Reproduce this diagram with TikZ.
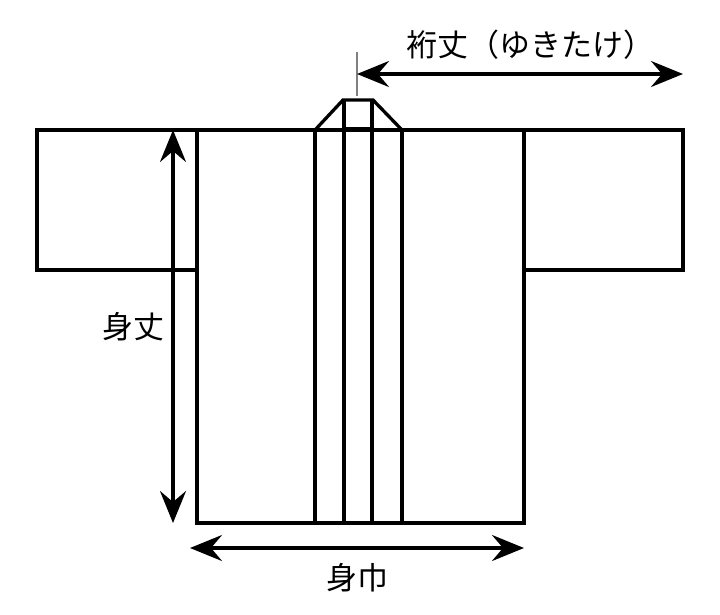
\documentclass[tikz,border=0pt]{standalone}
\usepackage{fontspec}
\newfontfamily\jpfont{Noto Sans CJK JP}
\usetikzlibrary{arrows.meta}

\begin{document}
\begin{tikzpicture}[x=1pt,y=-1pt,line width=3.3pt]
\tikzstyle{dimline}=[{Stealth[length=32pt,width=26pt,inset=11pt]}-{Stealth[length=32pt,width=26pt,inset=11pt]}]
\tikzstyle{dimlabel}=[font=\jpfont\fontsize{31}{31}\selectfont,inner sep=0pt]
\useasboundingbox (0,0) rectangle (720,614);

%% Sleeves and body
\draw (197,130) -- (37,130) -- (37,270) -- (197,270);
\draw (524,130) -- (683,130) -- (683,270) -- (524,270);
\draw (197,130) rectangle (524,523);

%% Collar
\draw (197,130) -- (315,130) -- (343,100) -- (373,100) -- (402,130) -- (524,130);
\draw (315,130) -- (315,523);
\draw (402,130) -- (402,523);
\draw (344,100) -- (344,523);
\draw (372,100) -- (372,523);
\draw (344,129) -- (372,129);

%% Dimensions
\coordinate (tickT) at (357,52);
\coordinate (tickB) at (357,96);
\draw[gray,line width=2pt] (tickT) -- (tickB);
\coordinate (yukiL) at (357,74);
\coordinate (yukiR) at (683,74);
\draw[dimline] (yukiL) -- (yukiR);
\node[dimlabel] (yuki) at (530,45) {裄丈（ゆきたけ）};

\coordinate (takeT) at (173,130);
\coordinate (takeB) at (173,523);
\draw[dimline] (takeT) -- (takeB);
\node[dimlabel] (take) at (133,327) {身丈};

\coordinate (habaL) at (190,548);
\coordinate (habaR) at (524,548);
\draw[dimline] (habaL) -- (habaR);
\node[dimlabel] (haba) at (357,578) {身巾};
\end{tikzpicture}
\end{document}
